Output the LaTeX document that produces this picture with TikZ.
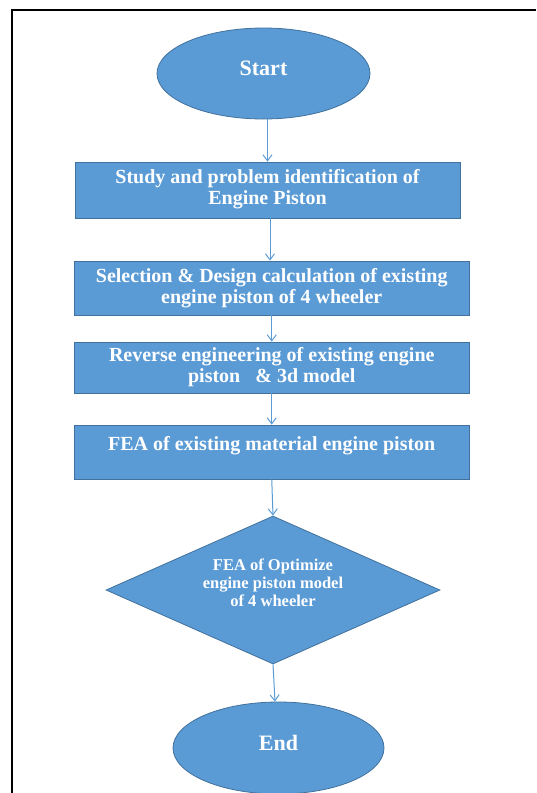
\documentclass[tikz,border=0pt]{standalone}
\usepackage{fontspec}
\setmainfont{Liberation Serif}
\usetikzlibrary{shapes.geometric,arrows.meta}
\definecolor{fillb}{HTML}{5B9BD5}
\definecolor{lineb}{HTML}{41719C}
\begin{document}
\begin{tikzpicture}[x=1pt,y=-1pt,
  shp/.style={fill=fillb,draw=lineb,line width=0.8pt,text=white,inner sep=0pt},
  boxn/.style={shp,rectangle,align=center,font=\fontsize{20}{21}\selectfont\bfseries},
  ell/.style={shp,ellipse,font=\fontsize{22}{24}\selectfont\bfseries},
  dia/.style={shp,diamond,aspect=2.26,font=\fontsize{16.5}{18}\selectfont\bfseries},
  arr/.style={draw=fillb,line width=1pt,-{Straight Barb[length=6pt,width=9pt]}},
  frame/.style={line width=2.2pt,draw=black}
]
\useasboundingbox (0,0) rectangle (536,793);
\coordinate (fb) at (12,793);
\coordinate (fc) at (12,10);
\coordinate (fr) at (536,10);
\draw[frame] (fb) -- (fc) -- (fr);

\node[ell,minimum width=213pt,minimum height=91pt] (start) at (263.5,73.5)
  {\raisebox{5pt}[\height][\depth]{Start}};
\node[boxn,minimum width=385pt,minimum height=56pt] (b1) at (267.5,190)
  {\raisebox{0.5pt}[\height][\depth]{\begin{tabular}{@{}c@{}}Study and problem identification of\\Engine Piston\end{tabular}}};
\node[boxn,minimum width=394.5pt,minimum height=54pt] (b2) at (271.75,288)
  {Selection \& Design calculation of existing\\engine piston of 4 wheeler};
\node[boxn,minimum width=394.5pt,minimum height=51pt] (b3) at (271.75,367.5)
  {Reverse engineering of existing engine\\piston\ \ \ \& 3d model};
\node[boxn,minimum width=394.5pt,minimum height=54pt] (b4) at (271.75,452)
  {\raisebox{6pt}[\height][\depth]{FEA of existing material engine piston}};
\node[dia,minimum width=334pt,minimum height=148pt] (dia) at (273,590)
  {\raisebox{5pt}[\height][\depth]{\begin{tabular}{@{}c@{}}FEA of Optimize\\engine piston model\\of 4 wheeler\end{tabular}}};
\node[ell,minimum width=211pt,minimum height=92pt] (end) at (278.5,748)
  {\raisebox{5pt}[\height][\depth]{End}};

\draw[arr] (start.south -| b1.north) -- (b1.north);
\draw[arr] (b1.south -| 270,0) -- (b2.north -| 270,0);
\draw[arr] (b2.south) -- (b3.north);
\draw[arr] (b3.south) -- (b4.north);
\draw[arr] (b4.south) -- (dia.north);
\draw[arr] (dia.south) -- (end.north -| 275,0);
\end{tikzpicture}
\end{document}
